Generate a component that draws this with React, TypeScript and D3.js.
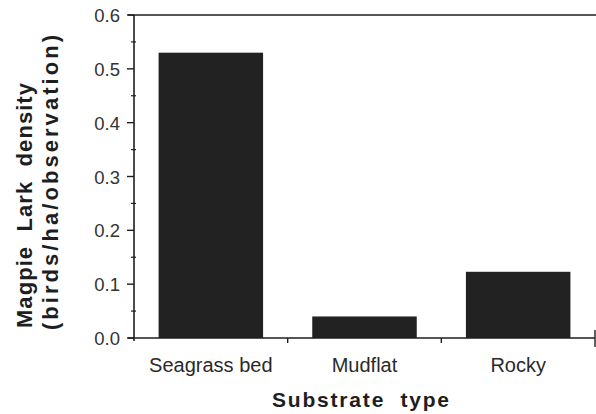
import React from "react";
import { scaleBand, scaleLinear, range } from "d3";

const categories = ["Seagrass bed", "Mudflat", "Rocky"];
const density = [0.53, 0.04, 0.123];
const yMajorTicks = [0, 0.1, 0.2, 0.3, 0.4, 0.5, 0.6];

const WIDTH = 596;
const HEIGHT = 414;
const PLOT = { left: 134, right: 595, top: 15, bottom: 338 };
const INK = "#1e1e1e";
const FONT = "Liberation Sans, Arial, Helvetica, sans-serif";

export default function App() {
  const x = scaleBand<string>()
    .domain(categories)
    .range([PLOT.left, PLOT.right])
    .paddingInner(0.32)
    .paddingOuter(0.16);

  const y = scaleLinear().domain([0, 0.6]).range([PLOT.bottom, PLOT.top]);

  const minorTicks = range(0.05, 0.6, 0.1);
  const step = x.step();
  // category boundaries for the bottom ticks
  const xBoundaries = categories.map((c) => (x(c) ?? 0) - (step * 0.32) / 2 + step);

  return (
    <svg
      width={WIDTH}
      height={HEIGHT}
      viewBox={`0 0 ${WIDTH} ${HEIGHT}`}
      style={{ position: "absolute", left: 0, top: 0, background: "#fff" }}
      fontFamily={FONT}
    >
      {/* Bars */}
      {categories.map((c, i) => (
        <rect
          key={c}
          x={x(c)}
          y={y(density[i])}
          width={x.bandwidth()}
          height={y(0) - y(density[i])}
          fill="#222"
        />
      ))}

      {/* Frame: top line, left axis, bottom axis */}
      <line x1={PLOT.left - 6} x2={WIDTH} y1={y(0.6)} y2={y(0.6)} stroke={INK} strokeWidth={1.6} />
      <line x1={PLOT.left} x2={PLOT.left} y1={y(0.6)} y2={y(0) + 3} stroke={INK} strokeWidth={1.6} />
      <line x1={PLOT.left - 6} x2={PLOT.right} y1={y(0)} y2={y(0)} stroke={INK} strokeWidth={1.6} />
      <line x1={PLOT.right} x2={PLOT.right} y1={y(0) - 8} y2={y(0) + 9} stroke={INK} strokeWidth={1.4} />

      {/* Y ticks */}
      {yMajorTicks.map((t) => (
        <g key={t}>
          <line x1={PLOT.left - 7} x2={PLOT.left} y1={y(t)} y2={y(t)} stroke={INK} strokeWidth={1.4} />
          <text
            x={PLOT.left - 14}
            y={y(t) + 7}
            textAnchor="end"
            fontSize={18.5}
            fill="#333"
          >
            {t.toFixed(1)}
          </text>
        </g>
      ))}
      {minorTicks.map((t) => (
        <line key={t} x1={PLOT.left - 3} x2={PLOT.left + 2} y1={y(t)} y2={y(t)} stroke={INK} strokeWidth={1.2} />
      ))}

      {/* X ticks */}
      {xBoundaries.slice(0, 2).map((bx) => (
        <line key={bx} x1={bx} x2={bx} y1={y(0)} y2={y(0) + 5} stroke={INK} strokeWidth={1.4} />
      ))}

      {/* Category labels */}
      {categories.map((c) => (
        <text
          key={c}
          x={(x(c) ?? 0) + x.bandwidth() / 2}
          y={372}
          textAnchor="middle"
          fontSize={20}
          fill="#2a2a2a"
        >
          {c}
        </text>
      ))}

      {/* Axis titles */}
      <text
        x={272}
        y={407}
        fontSize={21}
        fontWeight="bold"
        fill={INK}
        textLength={177}
        lengthAdjust="spacing"
        style={{ whiteSpace: "pre" }}
      >
        {"Substrate  type"}
      </text>
      <text
        transform="translate(32,328) rotate(-90)"
        fontSize={22}
        fontWeight="bold"
        fill={INK}
        textLength={245}
        lengthAdjust="spacing"
        style={{ whiteSpace: "pre" }}
      >
        {"Magpie  Lark  density"}
      </text>
      <text
        transform="translate(58,330) rotate(-90)"
        fontSize={22}
        fontWeight="bold"
        fill={INK}
        textLength={295}
        lengthAdjust="spacing"
      >
        (birds/ha/observation)
      </text>
    </svg>
  );
}
